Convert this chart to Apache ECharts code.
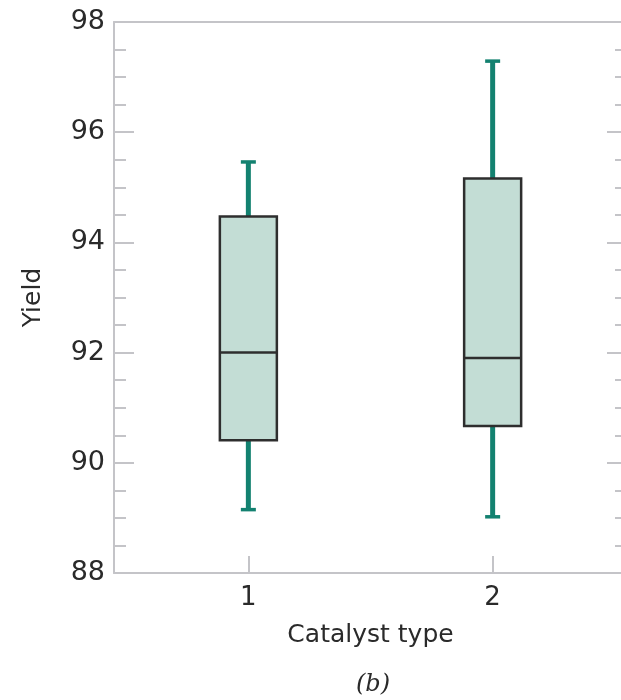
<!DOCTYPE html>
<html>
<head>
<meta charset="utf-8">
<script src="https://cdn.jsdelivr.net/npm/echarts@6/dist/echarts.min.js"></script>
<style>html,body{margin:0;padding:0;background:#fff;overflow:hidden;width:621px;height:700px}#c{width:627px;height:700px}</style>
</head>
<body>
<div id="c"></div>
<script>
const categories = [1, 2];
const mins = [89.15, 89.02];
const q1s = [90.41, 90.67];
const medians = [92.0, 91.9];
const q3s = [94.47, 95.16];
const maxs = [95.46, 97.29];
const xTickValues = [1, 2];

const AXIS = '#c4c4c8';
const TXT = '#2a2a2a';
const FONT = 'DejaVu Sans';

const data = categories.map((c, i) => [c, mins[i], q1s[i], medians[i], q3s[i], maxs[i]]);

const chart = echarts.init(document.getElementById('c'));
chart.setOption({
  animation: false,
  grid: { left: 114, top: 22, bottom: 127, right: 0 },
  xAxis: [{
    type: 'value', position: 'bottom', min: 0.45, max: 2.55,
    name: 'Catalyst type', nameLocation: 'middle', nameGap: 50,
    nameTextStyle: { fontFamily: FONT, fontSize: 25, color: TXT },
    axisLine: { show: true, lineStyle: { color: AXIS, width: 2 } },
    axisTick: { show: true, inside: true, length: 17, lineStyle: { color: AXIS, width: 2 }, customValues: xTickValues },
    axisLabel: { margin: 12, fontFamily: FONT, fontSize: 26, color: TXT, customValues: xTickValues },
    splitLine: { show: false }
  }, {
    type: 'value', position: 'top', min: 0.45, max: 2.55,
    axisLine: { show: true, onZero: false, lineStyle: { color: AXIS, width: 2 } },
    axisTick: { show: false }, axisLabel: { show: false }, splitLine: { show: false }
  }],
  yAxis: [{
    type: 'value', position: 'left', min: 88, max: 98, interval: 2,
    name: 'Yield', nameLocation: 'middle', nameGap: 68,
    nameTextStyle: { fontFamily: FONT, fontSize: 25, color: TXT },
    axisLine: { show: true, lineStyle: { color: AXIS, width: 2 } },
    axisTick: { show: true, inside: true, length: 20, lineStyle: { color: AXIS, width: 2 } },
    minorTick: { show: true, splitNumber: 4, length: 12, lineStyle: { color: AXIS, width: 2 } },
    axisLabel: { margin: 9, fontFamily: FONT, fontSize: 27, color: TXT },
    splitLine: { show: false }
  }, {
    type: 'value', position: 'right', min: 88, max: 98, interval: 2,
    axisLine: { show: false },
    axisTick: { show: true, inside: true, length: 20, lineStyle: { color: AXIS, width: 2 } },
    minorTick: { show: true, splitNumber: 4, length: 12, lineStyle: { color: AXIS, width: 2 } },
    axisLabel: { show: false }, splitLine: { show: false }
  }],
  graphic: [{
    type: 'text', left: 356, top: 673,
    style: { text: '(b)', font: 'italic 24px "DejaVu Serif"', fill: TXT }
  }],
  series: [{
    type: 'custom',
    xAxisIndex: 0, yAxisIndex: 0,
    data: data,
    renderItem: function (params, api) {
      const x = api.value(0);
      const pMin = api.coord([x, api.value(1)]);
      const pQ1 = api.coord([x, api.value(2)]);
      const pMed = api.coord([x, api.value(3)]);
      const pQ3 = api.coord([x, api.value(4)]);
      const pMax = api.coord([x, api.value(5)]);
      const cx = pMed[0];
      const bw = 57, cap = 15;
      const green = '#138170';
      return {
        type: 'group',
        children: [
          { type: 'line', shape: { x1: cx, y1: pQ3[1], x2: cx, y2: pMax[1] }, style: { stroke: green, lineWidth: 5 } },
          { type: 'line', shape: { x1: cx, y1: pQ1[1], x2: cx, y2: pMin[1] }, style: { stroke: green, lineWidth: 5 } },
          { type: 'line', shape: { x1: cx - cap / 2, y1: pMax[1], x2: cx + cap / 2, y2: pMax[1] }, style: { stroke: green, lineWidth: 3.5 } },
          { type: 'line', shape: { x1: cx - cap / 2, y1: pMin[1], x2: cx + cap / 2, y2: pMin[1] }, style: { stroke: green, lineWidth: 3.5 } },
          { type: 'rect', shape: { x: cx - bw / 2, y: pQ3[1], width: bw, height: pQ1[1] - pQ3[1] }, style: { fill: '#c3ddd5', stroke: '#2e2e2e', lineWidth: 2.5 } },
          { type: 'line', shape: { x1: cx - bw / 2, y1: pMed[1], x2: cx + bw / 2, y2: pMed[1] }, style: { stroke: '#2e2e2e', lineWidth: 2.5 } }
        ]
      };
    }
  }]
});
</script>
</body>
</html>
